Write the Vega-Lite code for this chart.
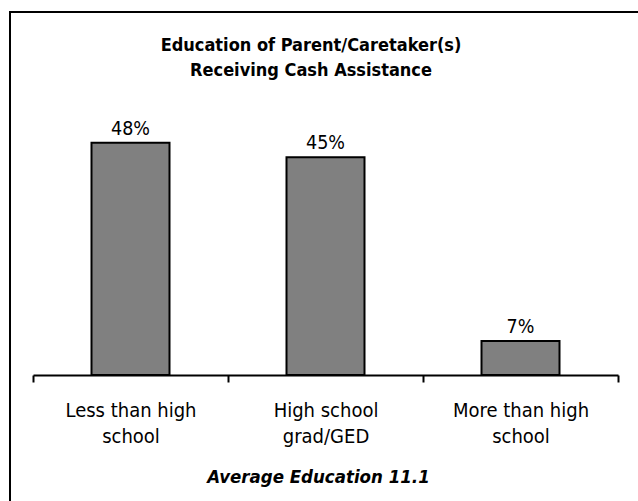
{
  "$schema": "https://vega.github.io/schema/vega-lite/v6.json",
  "width": 630,
  "height": 491,
  "autosize": {"type": "none"},
  "padding": {"left": 10, "top": 12, "right": -2, "bottom": -2},
  "background": "white",
  "config": {
    "view": {"stroke": "black", "strokeWidth": 2},
    "font": "DejaVu Sans Condensed"
  },
  "title": {
    "text": ["Education of Parent/Caretaker(s)", "Receiving Cash Assistance"],
    "anchor": "middle",
    "frame": "group",
    "offset": -68,
    "dx": -14,
    "fontSize": 18,
    "fontWeight": "bold",
    "lineHeight": 25,
    "color": "black",
    "font": "DejaVu Sans Condensed"
  },
  "data": {
    "values": [
      {"category": "Less than high school", "value": 0.48},
      {"category": "High school grad/GED", "value": 0.45},
      {"category": "More than high school", "value": 0.07}
    ]
  },
  "encoding": {
    "x": {
      "field": "category",
      "type": "nominal",
      "sort": null,
      "scale": {"range": [23, 608], "paddingInner": 0, "paddingOuter": 0},
      "axis": {
        "orient": "bottom",
        "offset": -128,
        "title": "Average Education 11.1",
        "titleX": 308,
        "domainColor": "black",
        "domainWidth": 2,
        "tickColor": "black",
        "tickWidth": 2,
        "tickSize": 7,
        "tickBand": "extent",
        "labelAngle": 0,
        "labelFont": "DejaVu Sans Condensed",
        "labelFontSize": 20,
        "labelColor": "black",
        "labelPadding": 18,
        "labelLineHeight": 26,
        "labelExpr": "datum.label == 'Less than high school' ? ['Less than high', 'school'] : datum.label == 'High school grad/GED' ? ['High school', 'grad/GED'] : datum.label == 'More than high school' ? ['More than high', 'school'] : ''",
        "titleFont": "DejaVu Sans Condensed",
        "titleFontSize": 18.5,
        "titleFontStyle": "italic",
        "titleFontWeight": "bold",
        "titleColor": "black",
        "titlePadding": 21
      }
    },
    "y": {
      "field": "value",
      "type": "quantitative",
      "scale": {"domain": [0, 0.75], "range": [363, 0]},
      "axis": null
    }
  },
  "layer": [
    {"mark": {"type": "bar", "width": {"band": 0.4}, "color": "#808080", "stroke": "black", "strokeWidth": 2}},
    {
      "mark": {"type": "text", "baseline": "bottom", "dy": -4, "fontSize": 19.5, "color": "black", "font": "DejaVu Sans Condensed"},
      "encoding": {"text": {"field": "value", "type": "quantitative", "format": ".0%"}}
    }
  ]
}
